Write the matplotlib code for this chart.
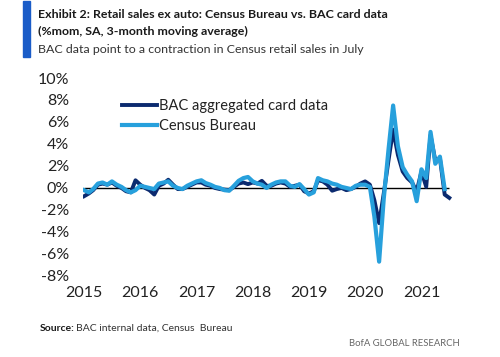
import matplotlib
matplotlib.use("Agg")
import matplotlib.pyplot as plt
import pandas as pd
from matplotlib.patches import Rectangle

# ---------------- data ----------------
bac_values = [
    -0.75, -0.5, -0.2, 0.3, 0.4, 0.3, 0.5, 0.2, 0.0, -0.3, -0.4, 0.7,      # 2015
    0.3, 0.0, -0.2, -0.6, 0.2, 0.4, 0.75, 0.3, -0.1, -0.1, 0.1, 0.3,       # 2016
    0.5, 0.5, 0.3, 0.2, 0.0, -0.1, -0.15, -0.2, 0.1, 0.4, 0.5, 0.35,       # 2017
    0.5, 0.4, 0.65, 0.2, 0.2, 0.4, 0.5, 0.4, 0.1, 0.2, 0.3, -0.3,          # 2018
    -0.5, -0.3, 0.7, 0.6, 0.3, -0.25, -0.1, 0.0, -0.2, -0.1, 0.1, 0.4,     # 2019
    0.6, 0.3, -1.1, -3.2, -0.5, 2.5, 5.3, 3.0, 1.5, 0.9, 0.5, -0.3,        # 2020
    1.5, 0.1, 4.8, 2.5, 2.7, -0.6, -0.9,                                   # 2021
]
census_values = [
    -0.2, -0.4, -0.1, 0.4, 0.5, 0.3, 0.6, 0.3, 0.1, -0.2, -0.4, -0.2,      # 2015
    0.2, 0.1, 0.0, -0.1, 0.4, 0.5, 0.6, 0.2, 0.0, -0.1, 0.2, 0.4,          # 2016
    0.6, 0.7, 0.45, 0.3, 0.1, 0.0, -0.2, -0.25, 0.2, 0.65, 0.9, 1.0,       # 2017
    0.6, 0.4, 0.3, 0.0, 0.3, 0.5, 0.6, 0.6, 0.2, 0.1, 0.35, -0.1,          # 2018
    -0.6, -0.4, 0.9, 0.7, 0.6, 0.4, 0.3, 0.1, 0.0, -0.1, 0.2, 0.3,         # 2019
    0.3, 0.1, -2.6, -6.7, -1.0, 3.5, 7.5, 3.8, 1.9, 1.2, 0.6, -1.2,        # 2020
    1.7, 0.9, 5.1, 2.2, 2.85, -0.1,                                        # 2021
]
series_names = ["BAC aggregated card data", "Census Bureau"]
year_labels = ["2015", "2016", "2017", "2018", "2019", "2020", "2021"]
y_ticks = [-8, -6, -4, -2, 0, 2, 4, 6, 8, 10]

bac_dates = pd.date_range("2015-01-01", periods=len(bac_values), freq="MS")
census_dates = pd.date_range("2015-01-01", periods=len(census_values), freq="MS")

# ---------------- style ----------------
NAVY = "#0b2a6f"
LIGHT = "#27a0dc"
BAR = "#1a5cc8"
plt.rcParams["font.family"] = ["Lato", "DejaVu Sans"]

fig = plt.figure(figsize=(5.0, 3.57), dpi=100)
fig.patch.set_facecolor("white")

ax = fig.add_axes([0.166, 0.227, 0.748, 0.5545])

ax.hlines(0, bac_dates[0], bac_dates[-1], color="black", lw=1.0, zorder=1)
ax.plot(bac_dates, bac_values, color=NAVY, lw=2.8, zorder=2,
        label=series_names[0], solid_joinstyle="round")
ax.plot(census_dates, census_values, color=LIGHT, lw=3.0, zorder=3,
        label=series_names[1], solid_joinstyle="round")

ax.set_ylim(-8, 10)
ax.set_yticks(y_ticks)
ax.set_yticklabels([f"{v}%" for v in y_ticks])
ax.set_xlim(pd.Timestamp("2014-12-25"), pd.Timestamp("2021-08-20"))
ax.set_xticks([pd.Timestamp(f"{y}-01-01") for y in year_labels])
ax.set_xticklabels(year_labels)
for s in ax.spines.values():
    s.set_visible(False)
ax.tick_params(axis="both", length=0, labelsize=11.5, colors="#222222")
ax.tick_params(axis="y", pad=10)
ax.tick_params(axis="x", pad=7)

leg = ax.legend(loc="upper left", bbox_to_anchor=(0.09, 0.925), frameon=False,
                fontsize=10.5, handlelength=2.4, handletextpad=0.1,
                labelspacing=0.45, borderaxespad=0)
for t in leg.get_texts():
    t.set_color("#222222")

# ---------------- header / footer ----------------
fig.patches.append(Rectangle((23 / 500, 1 - 57 / 357), 7 / 500, 56 / 357,
                             transform=fig.transFigure, color=BAR, zorder=5))
fig.text(38 / 500, 1 - 18 / 357,
         "Exhibit 2: Retail sales ex auto: Census Bureau vs. BAC card data",
         fontsize=8.9, fontweight="bold", color="#1a1a1a", va="baseline")
fig.text(38 / 500, 1 - 35 / 357, "(%mom, SA, 3-month moving average)",
         fontsize=8.9, fontweight="bold", color="#1a1a1a", va="baseline")
fig.text(38 / 500, 1 - 53 / 357,
         "BAC data point to a contraction in Census retail sales in July",
         fontsize=8.9, color="#333333", va="baseline")

fig.text(40 / 500, 1 - 331 / 357, "Source:", fontsize=7.5, fontweight="bold",
         color="#1a1a1a", va="baseline")
fig.text(76 / 500, 1 - 331 / 357, "BAC internal data, Census  Bureau",
         fontsize=7.5, color="#333333", va="baseline")
fig.text(460 / 500, 1 - 346 / 357, "BofA GLOBAL RESEARCH", fontsize=6.8,
         color="#666666", ha="right", va="baseline")

fig.savefig("out.png", dpi=100, facecolor="white")
